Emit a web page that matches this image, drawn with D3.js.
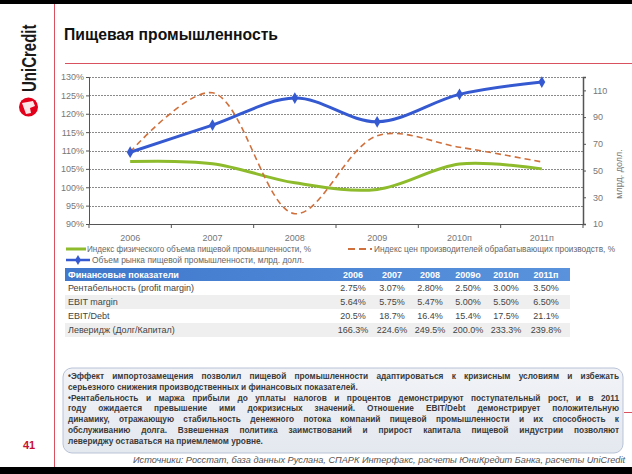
<!DOCTYPE html>
<html><head><meta charset="utf-8">
<script src="https://cdn.jsdelivr.net/npm/d3@7"></script>
<style>body{margin:0;background:#fff;} svg{display:block;font-family:"Liberation Sans",Arial,sans-serif;}</style>
</head><body><svg id="c" width="632" height="474"></svg>
<script>
// ---------- data ----------
const categories = ["2006","2007","2008","2009","2010п","2011п"];
const volumeIndex = [107.0,106.4,101.2,99.4,106.3,105.0];   // left axis, %
const priceIndex  = [109.6,125.7,92.8,114.0,110.9,106.9];   // left axis, %
const marketSize  = [63.7,84.0,104.2,86.5,107.0,116.2];     // right axis, млрд. долл.
const leftTicks = [90,95,100,105,110,115,120,125,130];
const rightTicks = [10,30,50,70,90,110];
const seriesNames = [
  "Индекс физического объема пищевой промышленности, %",
  "Индекс цен производителей обрабатывающих производств, %",
  "Объем рынка пищевой промышленности, млрд. долл."
];
const tableHeader = ["Финансовые показатели","2006","2007","2008","2009о","2010п","2011п"];
const rowLabels = ["Рентабельность (profit margin)","EBIT margin","EBIT/Debt","Леверидж (Долг/Капитал)"];
const profitMargin = ["2.75%","3.07%","2.80%","2.50%","3.00%","3.50%"];
const ebitMargin   = ["5.64%","5.75%","5.47%","5.00%","5.50%","6.50%"];
const ebitDebt     = ["20.5%","18.7%","16.4%","15.4%","17.5%","21.1%"];
const leverage     = ["166.3%","224.6%","249.5%","200.0%","233.3%","239.8%"];
const boxLines = [
  ["•Эффект импортозамещения позволил пищевой промышленности адаптироваться к кризисным условиям и избежать", true],
  ["серьезного снижения производственных и финансовых показателей.", false],
  ["•Рентабельность и маржа прибыли до уплаты налогов и процентов демонстрируют поступательный рост, и в 2011", true],
  ["году ожидается превышение ими докризисных значений. Отношение EBIT/Debt демонстрирует положительную", true],
  ["динамику, отражающую стабильность денежного потока компаний пищевой промышленности и их способность к", true],
  ["обслуживанию долга. Взвешенная политика заимствований и прирост капитала пищевой индустрии позволяют", true],
  ["левериджу оставаться на приемлемом уровне.", false]
];
const title = "Пищевая промышленность";
const sourceText = "Источники: Росстат, база данных Руслана, СПАРК Интерфакс, расчеты ЮниКредит Банка, расчеты UniCredit";
const pageNumber = "41";

// ---------- frame ----------
const svg = d3.select("#c");
const red = "#c8102e";
svg.append("rect").attr("x",0).attr("y",0).attr("width",632).attr("height",4).attr("fill","#000");
svg.append("rect").attr("x",0).attr("y",467).attr("width",632).attr("height",7).attr("fill","#000");
svg.append("line").attr("x1",54.5).attr("x2",54.5).attr("y1",4).attr("y2",467).attr("stroke","#d9505f").attr("stroke-width",1);
svg.append("line").attr("x1",65).attr("x2",632).attr("y1",63.5).attr("y2",63.5).attr("stroke","#d9505f").attr("stroke-width",1.2);
svg.append("text").attr("x",64).attr("y",40).attr("font-size",16).attr("font-weight","bold").attr("fill","#111")
  .attr("textLength",214).attr("lengthAdjust","spacingAndGlyphs").text(title);
// logo
svg.append("text").attr("transform","translate(36,92) rotate(-90) scale(1,1.4)").attr("font-size",15).attr("font-weight","bold")
  .attr("fill","#1a1a1a").text("UniCredit");
svg.append("circle").attr("cx",28.5).attr("cy",107).attr("r",9.5).attr("fill","#e2001a");
svg.append("path").attr("d","M22,103 L33,101 L35,106 L30,108 L31,113 L26,114 Z").attr("fill","#fff").attr("opacity",0.9);
svg.append("text").attr("x",29).attr("y",449).attr("text-anchor","middle").attr("font-size",11).attr("font-weight","bold").attr("fill",red).text(pageNumber);
svg.append("line").attr("x1",624).attr("x2",632).attr("y1",412.5).attr("y2",412.5).attr("stroke","#d9505f");

// ---------- chart ----------
const x = d3.scaleBand().domain(categories).range([89,583]);
const cx = c => x(c) + x.bandwidth()/2;
const yL = d3.scaleLinear().domain([90,130]).range([224,77]);
const yR = d3.scaleLinear().domain([10,120]).range([224,77]);

const g = svg.append("g");
g.selectAll(".grid").data(leftTicks.slice(1)).join("line")
  .attr("x1",89).attr("x2",583).attr("y1",d=>Math.round(yL(d))+0.5).attr("y2",d=>Math.round(yL(d))+0.5)
  .attr("stroke","#8a8a8a").attr("stroke-dasharray","2,1").attr("stroke-width",1);

const axL = g.append("g").attr("transform","translate(89,0)")
  .call(d3.axisLeft(yL).tickValues(leftTicks).tickFormat(d=>d+"%").tickSize(3).tickPadding(2));
const axR = g.append("g").attr("transform","translate(583,0)")
  .call(d3.axisRight(yR).tickValues(rightTicks).tickSize(3).tickPadding(7));
const axB = g.append("g").attr("transform","translate(0,224)")
  .call(d3.axisBottom(x).tickSize(0).tickPadding(11));
[axL,axR,axB].forEach(a=>{
  a.select(".domain").attr("stroke","#555");
  a.selectAll(".tick line").attr("stroke","#555");
  a.selectAll("text").attr("font-size",9).attr("fill","#777").attr("font-family","Liberation Sans, Arial, sans-serif");
});
axR.select(".domain").attr("stroke-width",1.5);
g.selectAll(".xsep").data(categories).join("line")
  .attr("x1",d=>x(d)).attr("x2",d=>x(d)).attr("y1",224).attr("y2",228).attr("stroke","#555");
g.append("line").attr("x1",583).attr("x2",583).attr("y1",224).attr("y2",228).attr("stroke","#555");
g.append("text").attr("transform","translate(622,174) rotate(-90)").attr("text-anchor","middle")
  .attr("font-size",9).attr("fill","#777").text("млрд. долл.");

const curve = d3.curveCatmullRom.alpha(0.5);
const lineL = d3.line().curve(curve).x((d,i)=>cx(categories[i])).y(d=>yL(d));
const lineR = d3.line().curve(curve).x((d,i)=>cx(categories[i])).y(d=>yR(d));
g.append("path").attr("d",lineL(volumeIndex)).attr("fill","none").attr("stroke","#8dbb2c").attr("stroke-width",3);
g.append("path").attr("d",lineL(priceIndex)).attr("fill","none").attr("stroke","#d0703c").attr("stroke-width",1.6).attr("stroke-dasharray","6,4");
g.append("path").attr("d",lineR(marketSize)).attr("fill","none").attr("stroke","#3559d0").attr("stroke-width",3);
g.selectAll(".mk").data(marketSize).join("path")
  .attr("transform",(d,i)=>`translate(${cx(categories[i])},${yR(d)})`)
  .attr("d",d3.symbol(d3.symbolDiamond,40)).attr("fill","#3559d0");

// legend
const lg = svg.append("g");
const lgFont = 8.3, lgCol = "#666";
lg.append("line").attr("x1",66).attr("x2",86).attr("y1",249).attr("y2",249).attr("stroke","#8dbb2c").attr("stroke-width",3);
lg.append("text").attr("x",87).attr("y",252).attr("font-size",lgFont).attr("fill",lgCol)
  .attr("textLength",224).attr("lengthAdjust","spacingAndGlyphs").text(seriesNames[0]);
lg.append("line").attr("x1",348).attr("x2",372).attr("y1",249).attr("y2",249).attr("stroke","#d0703c").attr("stroke-width",2).attr("stroke-dasharray","7,4");
lg.append("text").attr("x",374).attr("y",252).attr("font-size",lgFont).attr("fill",lgCol)
  .attr("textLength",241).attr("lengthAdjust","spacingAndGlyphs").text(seriesNames[1]);
lg.append("line").attr("x1",66).attr("x2",90).attr("y1",260).attr("y2",260).attr("stroke","#3559d0").attr("stroke-width",2.5);
lg.append("path").attr("transform","translate(78,260)").attr("d",d3.symbol(d3.symbolDiamond,30)).attr("fill","#3559d0");
lg.append("text").attr("x",92).attr("y",263).attr("font-size",lgFont).attr("fill",lgCol)
  .attr("textLength",212).attr("lengthAdjust","spacingAndGlyphs").text(seriesNames[2]);

// ---------- table ----------
const rows = [profitMargin, ebitMargin, ebitDebt, leverage];
const colX = [353,392,430,468,506,546];
const tTop = 268, hH = 13, rH = 14;
const tb = svg.append("g");
const grad = svg.append("defs").append("linearGradient").attr("id","hg");
grad.append("stop").attr("offset","0").attr("stop-color","#3f78cc");
grad.append("stop").attr("offset","1").attr("stop-color","#5a93dc");
tb.append("rect").attr("x",65).attr("y",tTop).attr("width",505).attr("height",hH).attr("fill","url(#hg)");
tb.append("text").attr("x",68).attr("y",tTop+10).attr("font-size",9).attr("font-weight","bold").attr("fill","#fff").text(tableHeader[0]);
tb.selectAll(".hy").data(tableHeader.slice(1)).join("text")
  .attr("x",(d,i)=>colX[i]).attr("y",tTop+10).attr("text-anchor","middle").attr("font-size",9).attr("font-weight","bold").attr("fill","#fff").text(d=>d);
rows.forEach((r,ri)=>{
  const y0 = tTop+hH+ri*rH;
  tb.append("rect").attr("x",65).attr("y",y0).attr("width",505).attr("height",rH).attr("fill",ri%2? "#efefef":"#fff");
  tb.append("text").attr("x",68).attr("y",y0+10).attr("font-size",9).attr("fill","#444").text(rowLabels[ri]);
  tb.selectAll(null).data(r).join("text").attr("x",(d,i)=>colX[i]).attr("y",y0+10).attr("text-anchor","middle")
    .attr("font-size",9).attr("fill","#444").text(d=>d);
});

// ---------- text box ----------
const bg = svg.append("defs").append("linearGradient").attr("id","bxg").attr("x1",0).attr("y1",0).attr("x2",0).attr("y2",1);
bg.append("stop").attr("offset","0").attr("stop-color","#f1f3f7");
bg.append("stop").attr("offset","1").attr("stop-color","#e4e8ef");
svg.append("rect").attr("x",63).attr("y",368).attr("width",560).attr("height",85).attr("rx",9)
  .attr("fill","url(#bxg)").attr("stroke","#b9c3d6").attr("stroke-width",1);
const bx0 = 68, bx1 = 619;
boxLines.forEach(([t,just],i)=>{
  const el = svg.append("text").attr("x",bx0).attr("y",379+i*10.8).attr("font-size",8.3).attr("font-weight","bold").attr("fill","#3a3a3a").text(t);
  if(just){
    const w = el.node().getComputedTextLength();
    const n = (t.match(/ /g)||[]).length;
    if(n>0) el.attr("word-spacing",(bx1-bx0-w)/n);
  }
});
svg.append("text").attr("x",133).attr("y",463).attr("font-size",8.6).attr("font-style","italic").attr("fill","#555")
  .attr("textLength",492).attr("lengthAdjust","spacingAndGlyphs").text(sourceText);
</script></body></html>
